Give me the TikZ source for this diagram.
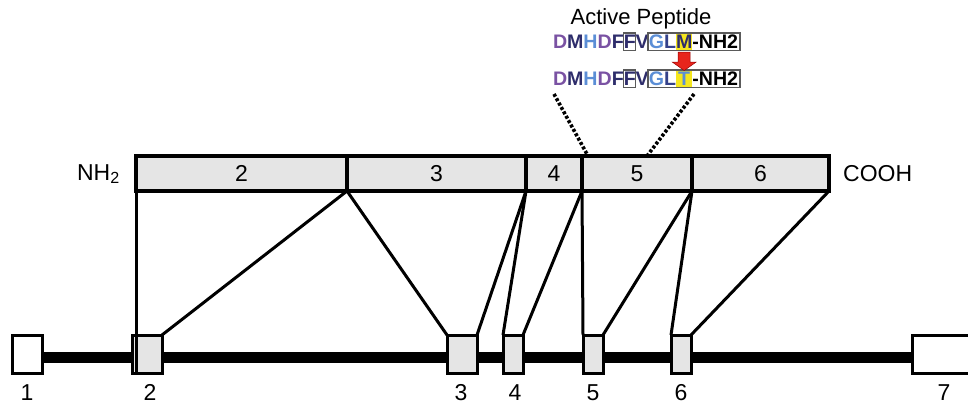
\documentclass[tikz,border=0pt]{standalone}
\usepackage{fontspec}
\setmainfont{Liberation Sans}
\usetikzlibrary{backgrounds}
\definecolor{pur}{HTML}{7A52A3}
\definecolor{navy}{HTML}{2E2D6B}
\definecolor{lblue}{HTML}{5B8ED6}
\definecolor{lnavy}{HTML}{34418A}
\definecolor{yel}{HTML}{F5E61E}
\definecolor{segfill}{HTML}{E5E5E5}
\definecolor{boxgray}{HTML}{5A5A5A}
\definecolor{arrred}{HTML}{E8251C}
\begin{document}
\begin{tikzpicture}[x=1pt,y=-1pt,
  seg/.style={draw, line width=3.4pt, fill=segfill, inner sep=0pt, outer sep=0pt, minimum height=35pt, font=\fontsize{23}{26}\selectfont},
  exon/.style={draw, line width=3pt, fill=segfill, inner sep=0pt, outer sep=0pt, minimum height=38pt},
  wexon/.style={exon, fill=white},
  conn/.style={line width=3pt},
  lab/.style={font=\fontsize{23}{26}\selectfont, inner sep=0pt, anchor=base},
  aa/.style={inner sep=0pt, outer sep=0pt, anchor=base west, font=\bfseries\fontsize{19.6}{22}\selectfont},
  pbox/.style={draw=boxgray, line width=1.4pt},
  dotl/.style={line width=3.6pt, dash pattern=on 3pt off 2pt}
]
\useasboundingbox (0,0) rectangle (968,405);

% protein
\node[seg, minimum width=211pt] (p2) at (241.5,173.5) {2};
\node[seg, minimum width=179pt] (p3) at (436.5,173.5) {3};
\node[seg, minimum width=56pt]  (p4) at (554,173.5) {4};
\node[seg, minimum width=110pt] (p5) at (637,173.5) {5};
\node[seg, minimum width=137pt] (p6) at (760.5,173.5) {6};
\node[lab, anchor=east] (nh) at (120,174) {NH\textsubscript{2}};
\node[lab, anchor=west] (cooh) at (843,174) {COOH};

% exons
\node[wexon, minimum width=30pt] (e1) at (27,354) {};
\node[exon, minimum width=30pt] (e2) at (147,354) {};
\node[exon, minimum width=30pt] (e3) at (462,354) {};
\node[exon, minimum width=20pt] (e4) at (513,354) {};
\node[exon, minimum width=20pt] (e5) at (593,354) {};
\node[exon, minimum width=20pt] (e6) at (681,354) {};
\node[wexon, minimum width=63pt] (e7) at (943.5,354) {};
\begin{pgfonlayer}{background}
\draw[line width=11pt] ([yshift=-3pt]e1.east) -- ([yshift=-3pt]e7.west);
\end{pgfonlayer}

\node[lab] (l1) at (27,400) {1};
\node[lab] (l2) at (150,400) {2};
\node[lab] (l3) at (461,400) {3};
\node[lab] (l4) at (515,400) {4};
\node[lab] (l5) at (593,400) {5};
\node[lab] (l6) at (681,400) {6};
\node[lab] (l7) at (944,400) {7};

% connectors
\draw[conn] (p2.south west) -- (p2.south west |- e2.south);
\draw[conn] (p2.south east) -- (e2.north east);
\draw[conn] (p3.south west) -- (e3.north west);
\draw[conn] (p3.south east) -- (e3.north east);
\draw[conn] (p4.south west) -- (e4.north west);
\draw[conn] (p4.south east) -- (e4.north east);
\draw[conn] (p5.south west) -- (e5.north west);
\draw[conn] (p5.south east) -- (e5.north east);
\draw[conn] (p6.south west) -- (e6.north west);
\draw[conn] (p6.south east) -- (e6.north east);

% title
\node[lab, font=\fontsize{22}{25}\selectfont] (title) at (641,24) {Active Peptide};

% row 1
\node[aa, text=pur]   (a1) at (553,48) {D};
\node[aa, text=navy]  (a2) at (a1.base east) {M};
\node[aa, text=lblue] (a3) at (a2.base east) {H};
\node[aa, text=pur]   (a4) at (a3.base east) {D};
\node[aa, text=navy]  (a5) at (a4.base east) {F};
\node[aa, text=navy]  (a6) at (a5.base east) {F};
\node[aa, text=navy]  (a7) at (a6.base east) {V};
\node[aa, text=lblue] (a8) at (a7.base east) {G};
\node[aa, text=lnavy] (a9) at (a8.base east) {L};
\node[aa, text=navy]  (a10) at (a9.base east) {M};
\node[aa, text=black] (a11) at (a10.base east) {-NH2};

% row 2
\node[aa, text=pur]   (b1) at (553,85) {D};
\node[aa, text=navy]  (b2) at (b1.base east) {M};
\node[aa, text=lblue] (b3) at (b2.base east) {H};
\node[aa, text=pur]   (b4) at (b3.base east) {D};
\node[aa, text=navy]  (b5) at (b4.base east) {F};
\node[aa, text=navy]  (b6) at (b5.base east) {F};
\node[aa, text=navy]  (b7) at (b6.base east) {V};
\node[aa, text=lblue] (b8) at (b7.base east) {G};
\node[aa, text=lnavy] (b9) at (b8.base east) {L};
\node[aa, text=lblue] (b10) at (b9.base east) {\setbox0\hbox{M}\hbox to \wd0{\hss T\hss}};
\node[aa, text=black] (b11) at (b10.base east) {-NH2};

\begin{pgfonlayer}{background}
\fill[yel] ([yshift=1pt]a10.west |- a11.north) rectangle ([yshift=-2pt]a10.east |- a11.base);
\fill[yel] ([yshift=1pt]b10.west |- b11.north) rectangle ([yshift=-2pt]b10.east |- b11.base);
\end{pgfonlayer}
\draw[pbox] ([shift={(0pt,1.5pt)}]a6.west |- a11.north) rectangle ([shift={(0pt,-2.5pt)}]a6.east |- a11.base);
\draw[pbox] ([shift={(-1pt,1.5pt)}]a8.west |- a11.north) rectangle ([shift={(2pt,-2.5pt)}]a11.east |- a11.base);
\draw[pbox] ([shift={(0pt,1.5pt)}]b6.west |- b11.north) rectangle ([shift={(0pt,-2.5pt)}]b6.east |- b11.base);
\draw[pbox] ([shift={(-1pt,1.5pt)}]b8.west |- b11.north) rectangle ([shift={(2pt,-2.5pt)}]b11.east |- b11.base);

% red arrow
\coordinate (at) at ([yshift=-4pt]a10.base);
\coordinate (ab) at ([yshift=1pt]b10.north);
\fill[arrred, draw=red!60!black, line width=0.5pt]
  ([xshift=-6pt]at) -- ([xshift=6pt]at) -- ([xshift=6pt]at |- 0,62) -- ([xshift=12pt]at |- 0,62)
  -- (ab) -- ([xshift=-12pt]at |- 0,62) -- ([xshift=-6pt]at |- 0,62) -- cycle;

% dotted lines
\coordinate (dl) at (554,94);
\coordinate (dr) at (694,94);
\draw[dotl] (dl) -- ([xshift=6pt]p5.north west);
\draw[dotl] (dr) -- ([xshift=65pt]p5.north west);
\end{tikzpicture}
\end{document}
